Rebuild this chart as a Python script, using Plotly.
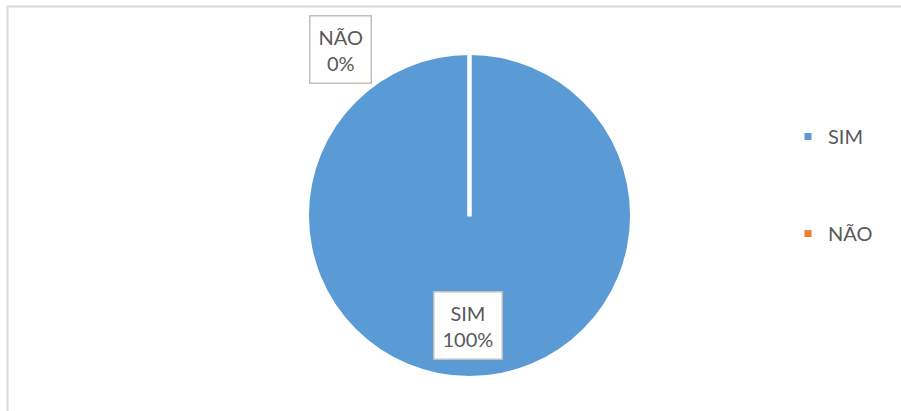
import plotly.graph_objects as go

labels = ["SIM", "NÃO"]
values = [100, 0]
percent_text = ["100%", "0%"]
colors = ["#5B9BD5", "#ED7D31"]

W, H = 901, 411
cx, cy, r = 469.5, 215.5, 160.5  # pixel geometry of the pie

def px(x):
    return x / W

def py(y):
    return 1 - y / H

fig = go.Figure()
fig.add_trace(go.Pie(
    labels=labels, values=values, sort=False, direction="clockwise", rotation=0,
    marker=dict(colors=colors, line=dict(color="white", width=0)),
    textinfo="none", hoverinfo="label+percent", showlegend=False,
    domain=dict(x=[px(cx - r), px(cx + r)], y=[py(cy + r), py(cy - r)]),
))

# legend entries
for lab, col in zip(labels, colors):
    fig.add_trace(go.Scatter(
        x=[None], y=[None], mode="markers", name=lab, legendgroup=lab,
        marker=dict(symbol="square", size=7, color=col),
    ))

font = "Lato, 'Open Sans', sans-serif"
txtcol = "#595959"

# slice separator (white radial line at 0°)
fig.add_shape(type="line", xref="paper", yref="paper",
              x0=px(cx), x1=px(cx), y0=py(cy + 1), y1=py(cy - r - 1),
              line=dict(color="white", width=4.5), layer="above")

# chart area border
fig.add_shape(type="rect", xref="paper", yref="paper",
              x0=px(7.5), x1=px(920), y0=py(430), y1=py(6.5),
              line=dict(color="#D9D9D9", width=2))

# data labels
label_pos = [(468, 325), (340.5, 50)]
for lab, pt, (lx, ly) in zip(labels, percent_text, label_pos):
    fig.add_annotation(
        x=px(lx), y=py(ly), xref="paper", yref="paper",
        xanchor="center", yanchor="middle",
        text=f"{lab}<br>{pt}", showarrow=False, align="center",
        font=dict(family=font, size=20, color=txtcol),
        bgcolor="white", bordercolor="#BFBFBF", borderwidth=1.5, borderpad=8,
    )

fig.update_layout(
    width=W, height=H, margin=dict(l=0, r=0, t=0, b=0),
    paper_bgcolor="white", plot_bgcolor="white",
    xaxis=dict(visible=False), yaxis=dict(visible=False),
    legend=dict(x=px(788), y=py(117), xanchor="left", yanchor="top",
                font=dict(family=font, size=20, color=txtcol),
                tracegroupgap=68, traceorder="grouped", itemwidth=30,
                bgcolor="rgba(0,0,0,0)"),
    showlegend=True,
)

fig.write_html("out.html", config={"displayModeBar": False})

# remove default browser body margin so the figure sits at the page origin
with open("out.html", "r", encoding="utf-8") as f:
    html = f.read()
html = html.replace("<head>", "<head><style>html,body{margin:0;padding:0;overflow:hidden;}</style>", 1)
with open("out.html", "w", encoding="utf-8") as f:
    f.write(html)
